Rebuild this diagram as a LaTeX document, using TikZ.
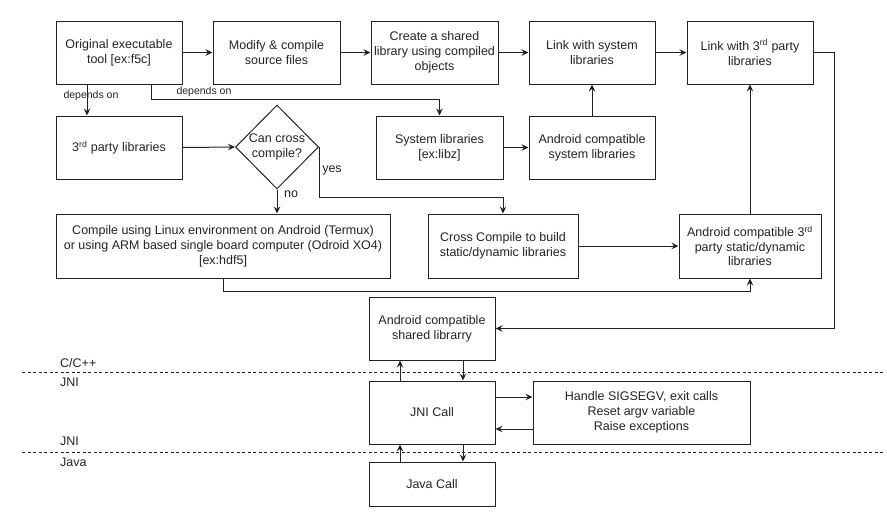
\documentclass[tikz,border=0pt]{standalone}
\usepackage{fontspec}
\setmainfont{Liberation Sans}
\usetikzlibrary{shapes.geometric,arrows.meta}
\definecolor{ink}{RGB}{35,35,35}
\begin{document}
\begin{tikzpicture}[x=1pt,y=-1pt,
  every node/.style={text=ink},
  box/.style={draw=ink,line width=1pt,rectangle,inner sep=0pt,align=center,
    font=\fontsize{12.5}{15}\selectfont},
  decision/.style={draw=ink,line width=1pt,diamond,aspect=1,inner sep=0pt,align=center,
    minimum width=83pt,minimum height=84pt,font=\fontsize{12.5}{15}\selectfont},
  lbl/.style={inner sep=0pt,font=\fontsize{12.5}{15}\selectfont},
  small/.style={inner sep=0pt,font=\fontsize{10.5}{12}\selectfont},
  arr/.style={draw=ink,line width=1pt,-{Stealth[length=7pt,width=6.5pt,inset=2.5pt]}},
  sep/.style={draw=ink,line width=1pt,dash pattern=on 3pt off 2.5pt}]
\useasboundingbox (0,0) rectangle (887,514);

% boxes
\node[box,minimum width=126pt,minimum height=63pt] (orig) at (119,52.5) {Original executable\\tool [ex:f5c]};
\node[box,minimum width=127pt,minimum height=63pt] (modify) at (276.5,52.5) {Modify \& compile\\source files};
\node[box,minimum width=127pt,minimum height=63pt] (create) at (434.5,52.5) {Create a shared\\library using compiled\\objects};
\node[box,minimum width=126pt,minimum height=63pt] (linksys) at (592,52.5) {Link with system\\libraries};
\node[box,minimum width=126pt,minimum height=63pt] (link3) at (750,52.5) {Link with 3\textsuperscript{rd} party\\libraries};
\node[box,minimum width=126pt,minimum height=63pt] (third) at (119,147.5) {3\textsuperscript{rd} party libraries};
\node[decision] (dia) at (277,147) {Can cross\\compile?};
\node[box,minimum width=127pt,minimum height=63pt] (syslib) at (439.5,147.5) {System libraries\\[0pt][ex:libz]};
\node[box,minimum width=126pt,minimum height=63pt] (andsys) at (592,147.5) {Android compatible\\system libraries};
\node[box,minimum width=334pt,minimum height=64pt] (linux) at (223,246) {Compile using Linux environment on Android (Termux)\\or using ARM based single board computer (Odroid XO4)\\[0pt][ex:hdf5]};
\node[box,minimum width=150pt,minimum height=64pt] (cross) at (503,246) {Cross Compile to build\\static/dynamic libraries};
\node[box,minimum width=142pt,minimum height=64pt,font=\fontsize{12.5}{14.5}\selectfont] (and3) at (750,246) {Android compatible 3\textsuperscript{rd}\\party static/dynamic\\libraries};
\node[box,minimum width=126pt,minimum height=63pt] (shared) at (432,328.5) {Android compatible\\shared librarry};
\node[box,minimum width=126pt,minimum height=63pt] (jni) at (432,412.5) {JNI Call};
\node[box,minimum width=217pt,minimum height=63pt] (handle) at (641.5,412.5) {Handle SIGSEGV, exit calls\\Reset argv variable\\Raise exceptions};
\node[box,minimum width=126pt,minimum height=44pt] (java) at (432,484) {Java Call};

% layer separators and labels
\draw[sep] (22,372) -- (883,372);
\draw[sep] (22,452) -- (883,452);
\node[lbl,anchor=west] (lc) at (60,363) {C/C++};
\node[lbl,anchor=west] (lj1) at (60,382) {JNI};
\node[lbl,anchor=west] (lj2) at (60,441) {JNI};
\node[lbl,anchor=west] (ljava) at (60,462) {Java};

% top row flow
\draw[arr] (orig) -- (modify);
\draw[arr] (modify) -- (create);
\draw[arr] (create) -- (linksys);
\draw[arr] (linksys) -- (link3);

% depends on
\draw[arr] ([xshift=-32pt]orig.south) -- ([xshift=-32pt]third.north);
\node[small] (dep1) at (91,96) {depends on};
\draw[arr] ([xshift=32pt]orig.south) -- ++(0,15) -| (syslib.north);
\node[small] (dep2) at (204,92) {depends on};

% decision
\draw[arr] (third.east) -- (dia.west);
\draw[arr] (dia.south) -- (dia.south |- linux.north);
\node[lbl] (no) at (291,194) {no};
\draw[arr] (dia.east) -- (dia.east |- 0,197) -| (cross.north);
\node[lbl] (yes) at (332,170) {yes};

% system libs
\draw[arr] (syslib) -- (andsys);
\draw[arr] (andsys) -- (linksys);

% third party
\draw[arr] (cross) -- (and3);
\draw[arr] (and3) -- (link3);
\draw[arr] (linux.south) -- (linux.south |- 0,291) -| (and3.south);

% to shared library
\draw[arr] (link3.east) -- ++(21,0) |- (shared.east);

% JNI
\draw[arr] ([xshift=31pt]shared.south) -- ([xshift=31pt]jni.north);
\draw[arr] ([xshift=-32pt]jni.north) -- ([xshift=-32pt]shared.south);
\draw[arr] ([yshift=15.5pt]jni.east) -- ([yshift=15.5pt]handle.west);
\draw[arr] ([yshift=-16.5pt]handle.west) -- ([yshift=-16.5pt]jni.east);
\draw[arr] ([xshift=31pt]jni.south) -- ([xshift=31pt]java.north);
\draw[arr] ([xshift=-32pt]java.north) -- ([xshift=-32pt]jni.south);
\end{tikzpicture}
\end{document}
